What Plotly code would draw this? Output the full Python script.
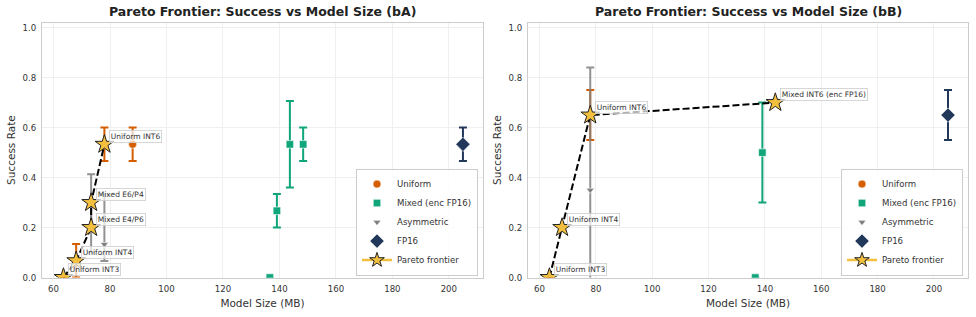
import plotly.graph_objects as go

# ---------------- data: panel bA ----------------
uni_x_A = [63.5, 68.0, 78.0, 88.0]
uni_y_A = [0.0, 0.067, 0.533, 0.533]
uni_e_A = [0.0, 0.067, 0.067, 0.067]

mix_x_A = [136.6, 139.1, 143.7, 148.4]
mix_y_A = [0.0, 0.267, 0.533, 0.533]
mix_e_A = [0.0, 0.067, 0.173, 0.067]

asym_x_A = [73.3, 73.3, 78.0]
asym_y_A = [0.3, 0.2, 0.133]
asym_ep_A = [0.113, 0.1, 0.2]
asym_em_A = [0.113, 0.1, 0.067]

fp_x_A = [205.0]
fp_y_A = [0.533]
fp_e_A = [0.067]

par_lab_A = ["Uniform INT3", "Uniform INT4", "Mixed E4/P6", "Mixed E6/P4", "Uniform INT6"]
par_x_A = [63.5, 68.0, 73.3, 73.3, 78.0]
par_y_A = [0.0, 0.067, 0.2, 0.3, 0.533]

# ---------------- data: panel bB ----------------
uni_x_B = [63.5, 68.0, 78.0]
uni_y_B = [0.0, 0.2, 0.65]
uni_e_B = [0.0, 0.0, 0.1]

mix_x_B = [136.6, 139.1, 143.7]
mix_y_B = [0.0, 0.5, 0.7]
mix_e_B = [0.0, 0.2, 0.0]

asym_x_B = [78.0]
asym_y_B = [0.35]
asym_ep_B = [0.49]
asym_em_B = [0.49]

fp_x_B = [205.0]
fp_y_B = [0.65]
fp_e_B = [0.1]

par_lab_B = ["Uniform INT3", "Uniform INT4", "Uniform INT6", "Mixed INT6 (enc FP16)"]
par_x_B = [63.5, 68.0, 78.0, 143.7]
par_y_B = [0.0, 0.2, 0.65, 0.7]

titles = ["Pareto Frontier: Success vs Model Size (bA)", "Pareto Frontier: Success vs Model Size (bB)"]
x_ticks = [60, 80, 100, 120, 140, 160, 180, 200]
y_ticks = [0.0, 0.2, 0.4, 0.6, 0.8, 1.0]

# ---------------- styles ----------------
C_UNI = "#d55e00"
C_MIX = "#10a57a"
C_ASYM = "#7f7f7f"
C_FP = "#22385a"
C_STAR = "#f2c03e"
FONT = "DejaVu Sans"
TXT = "#333333"

fig = go.Figure()

panels = [
    dict(ax="", uni=(uni_x_A, uni_y_A, uni_e_A), mix=(mix_x_A, mix_y_A, mix_e_A),
         asym=(asym_x_A, asym_y_A, asym_ep_A, asym_em_A), fp=(fp_x_A, fp_y_A, fp_e_A),
         par=(par_lab_A, par_x_A, par_y_A), legend="legend"),
    dict(ax="2", uni=(uni_x_B, uni_y_B, uni_e_B), mix=(mix_x_B, mix_y_B, mix_e_B),
         asym=(asym_x_B, asym_y_B, asym_ep_B, asym_em_B), fp=(fp_x_B, fp_y_B, fp_e_B),
         par=(par_lab_B, par_x_B, par_y_B), legend="legend2"),
]


def eb(arr, color, arrminus=None):
    d = dict(type="data", array=arr, visible=True, color=color, thickness=2, width=4)
    if arrminus is not None:
        d["symmetric"] = False
        d["arrayminus"] = arrminus
    return d


for p in panels:
    xa, ya = "x" + p["ax"], "y" + p["ax"]
    lg = p["legend"]
    x, y, e = p["uni"]
    fig.add_trace(go.Scatter(x=x, y=y, mode="markers", name="Uniform", xaxis=xa, yaxis=ya, legend=lg,
                             marker=dict(symbol="circle", size=8, color=C_UNI, line=dict(width=0.6, color="white")),
                             error_y=eb(e, C_UNI)))
    x, y, e = p["mix"]
    fig.add_trace(go.Scatter(x=x, y=y, mode="markers", name="Mixed (enc FP16)", xaxis=xa, yaxis=ya, legend=lg,
                             marker=dict(symbol="square", size=7.5, color=C_MIX, line=dict(width=0.6, color="white")),
                             error_y=eb(e, C_MIX)))
    x, y, ep, em = p["asym"]
    fig.add_trace(go.Scatter(x=x, y=y, mode="markers", name="Asymmetric", xaxis=xa, yaxis=ya, legend=lg,
                             marker=dict(symbol="triangle-down", size=7, color=C_ASYM, line=dict(width=0.6, color="white")),
                             error_y=eb(ep, "rgba(127,127,127,0.85)", em)))
    x, y, e = p["fp"]
    fig.add_trace(go.Scatter(x=x, y=y, mode="markers", name="FP16", xaxis=xa, yaxis=ya, legend=lg,
                             marker=dict(symbol="diamond", size=11, color=C_FP, line=dict(width=0.6, color="white")),
                             error_y=eb(e, C_FP)))
    labs, x, y = p["par"]
    fig.add_trace(go.Scatter(x=x, y=y, mode="lines", xaxis=xa, yaxis=ya, showlegend=False,
                             line=dict(color="black", width=2, dash="7px,3px"), hoverinfo="skip"))
    fig.add_trace(go.Scatter(x=x, y=y, mode="markers", xaxis=xa, yaxis=ya, showlegend=False, text=labs,
                             marker=dict(symbol="star", size=14, color=C_STAR, line=dict(width=1, color="#222222"))))
    fig.add_trace(go.Scatter(x=[None], y=[None], mode="lines+markers", name="Pareto frontier", xaxis=xa, yaxis=ya,
                             legend=lg, line=dict(color=C_STAR, width=2.5),
                             marker=dict(symbol="star", size=11, color=C_STAR, line=dict(width=1, color="#222222"))))
    for lab, xx, yy in zip(labs, x, y):
        fig.add_annotation(x=xx, y=yy, xref=xa, yref=ya, text=lab, showarrow=False,
                           xanchor="left", yanchor="middle", xshift=5, yshift=8,
                           font=dict(family=FONT, size=7.5, color=TXT),
                           bgcolor="rgba(255,255,255,0.7)", bordercolor="#cccccc", borderwidth=0.8, borderpad=1)

W, H = 976, 317
dom1 = [42 / W, 483 / W]
dom2 = [528 / W, 968 / W]
ydom = [(H - 282) / H, (H - 23) / H]

axis_common = dict(range=[55.9, 212.1], tickvals=x_ticks, showgrid=True, gridcolor="#efefef", gridwidth=0.8,
                   showline=True, linecolor="#cccccc", linewidth=1.2, mirror=True, zeroline=False,
                   ticks="", ticklabelstandoff=3, tickfont=dict(family=FONT, size=8.6, color=TXT),
                   title=dict(text="Model Size (MB)", font=dict(family=FONT, size=10.5, color=TXT), standoff=6))
yaxis_common = dict(range=[0, 1.02], tickvals=y_ticks, tickformat=".1f", showgrid=True, gridcolor="#efefef",
                    gridwidth=0.8, showline=True, linecolor="#cccccc", linewidth=1.2, mirror=True, zeroline=False,
                    ticks="", ticklabelstandoff=3, tickfont=dict(family=FONT, size=8.6, color=TXT),
                    title=dict(text="Success Rate", font=dict(family=FONT, size=10.5, color=TXT), standoff=4))

legend_common = dict(bgcolor="rgba(255,255,255,0.85)", bordercolor="#cccccc", borderwidth=1,
                     font=dict(family=FONT, size=8.6, color=TXT), xanchor="right", yanchor="bottom",
                     tracegroupgap=0)

fig.update_layout(
    width=W, height=H, margin=dict(l=0, r=0, t=0, b=0),
    paper_bgcolor="white", plot_bgcolor="white",
    font=dict(family=FONT, color=TXT),
    xaxis=dict(domain=dom1, anchor="y", **axis_common),
    yaxis=dict(domain=ydom, anchor="x", **yaxis_common),
    xaxis2=dict(domain=dom2, anchor="y2", **axis_common),
    yaxis2=dict(domain=ydom, anchor="x2", **yaxis_common),
    legend=dict(x=478 / W, y=(H - 280) / H, **legend_common),
    legend2=dict(x=963 / W, y=(H - 280) / H, **legend_common),
)

for t, dom in zip(titles, [dom1, dom2]):
    fig.add_annotation(x=(dom[0] + dom[1]) / 2, y=(H - 12) / H, xref="paper", yref="paper", text="<b>" + t + "</b>",
                       showarrow=False, xanchor="center", yanchor="middle",
                       font=dict(family=FONT, size=12.5, color="#222222"))

fig.write_html("out.html", config={"displayModeBar": False},
               post_script="document.body.style.margin='0px';document.body.style.overflow='hidden';")
